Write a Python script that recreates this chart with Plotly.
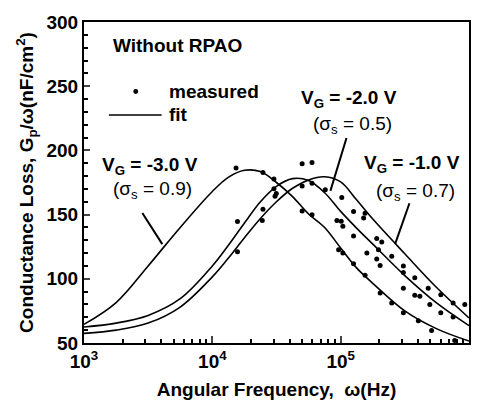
import plotly.graph_objects as go

# ---- fit curves ----
omega_fit = [1.0e3, 1.78e3, 3.16e3, 5.62e3, 1.0e4, 1.33e4, 1.78e4, 2.37e4, 3.16e4,
             4.22e4, 5.62e4, 7.5e4, 1.0e5, 1.33e5, 1.78e5, 3.16e5, 5.62e5, 1.0e6]
fit_vg3 = [64.5, 81.5, 110, 140, 168, 179, 184.5, 183.5, 175, 164, 150.5, 140, 124,
           108.5, 96.5, 75, 61, 51.5]
fit_vg2 = [62.5, 65.5, 71.5, 84.5, 110, 126, 143.5, 160, 172, 178, 176.5, 167, 152.5,
           139.5, 127, 102.5, 81, 63.5]
fit_vg1 = [57.5, 60, 65.5, 78, 101.5, 116, 132, 147, 160, 170.5, 177, 179.5, 175.5,
           161.5, 146.5, 119.5, 93, 69.5]

# ---- measured points ----
meas_w_vg3 = [1.53e4, 2.48e4, 3.02e4, 5.01e4, 5.98e4, 9.64e4, 1.04e5, 1.26e5, 1.55e5,
              2.03e5, 2.50e5, 3.08e5, 4.03e5, 5.11e5, 7.74e5]
meas_g_vg3 = [186.2, 182.8, 177.8, 152.9, 149.8, 122.6, 120.1, 111.7, 102.8,
              88.9, 81.2, 73.6, 67.3, 59.7, 52.0]
meas_w_vg2 = [1.57e4, 2.48e4, 3.02e4, 3.15e4, 5.01e4, 5.98e4, 9.35e4, 1.01e5, 1.04e5,
              1.26e5, 1.60e5, 1.97e5, 1.91e5, 2.03e5, 3.08e5, 3.08e5, 3.78e5, 4.14e5,
              4.95e5, 6.03e5, 7.52e5]
meas_g_vg2 = [144.7, 154.2, 170.2, 166.4, 172.2, 174.5, 145.5, 144.8, 140.9,
              133.3, 120.1, 122.6, 115.5, 110.4, 104.9, 92.7, 87.1, 86.4,
              80.0, 73.6, 70.3]
meas_w_vg1 = [1.57e4, 2.45e4, 3.08e4, 5.01e4, 5.98e4, 7.59e4, 1.02e5, 1.26e5, 1.55e5,
              1.51e5, 1.91e5, 2.09e5, 2.50e5, 3.08e5, 3.78e5, 4.81e5, 6.03e5, 7.52e5,
              9.27e5]
meas_g_vg1 = [121.1, 145.5, 164.3, 189.7, 190.5, 169.4, 163.3, 152.4, 151.1,
              147.3, 131.3, 128.7, 117.6, 110.0, 100.8, 92.7, 87.6, 81.2, 80.0]

x_tickvals = [1e3, 1e4, 1e5, 1e6]
x_ticktext = ["10<sup>3</sup>", "10<sup>4</sup>", "10<sup>5</sup>", "10<sup>6</sup>"]
y_tickvals = [50, 100, 150, 200, 250, 300]

FONT = "Liberation Sans, Arial, sans-serif"

fig = go.Figure()
for yv in (fit_vg3, fit_vg2, fit_vg1):
    fig.add_trace(go.Scatter(x=omega_fit, y=yv, mode="lines",
                             line=dict(color="black", width=1.6, shape="spline", smoothing=1.0),
                             showlegend=False, hoverinfo="skip"))
for xw, yg in ((meas_w_vg3, meas_g_vg3), (meas_w_vg2, meas_g_vg2), (meas_w_vg1, meas_g_vg1)):
    fig.add_trace(go.Scatter(x=xw, y=yg, mode="markers",
                             marker=dict(color="black", size=5, symbol="circle"),
                             showlegend=False))

minor_x = [m * 10 ** e for e in (3, 4, 5) for m in range(2, 10)]

fig.update_layout(
    width=483, height=409,
    margin=dict(l=84, r=12, t=18, b=63),
    paper_bgcolor="white", plot_bgcolor="white",
    font=dict(family=FONT, size=19, color="black", weight="bold"),
    showlegend=False,
    xaxis=dict(type="log", range=[3, 6], tickmode="array", tickvals=x_tickvals,
               ticktext=x_ticktext, ticks="inside", ticklen=7, tickwidth=2,
               showline=True, linewidth=2, linecolor="black", mirror=True,
               showgrid=False, zeroline=False,
               minor=dict(tickmode="array", tickvals=minor_x, ticks="inside",
                          ticklen=4, tickwidth=2, tickcolor="black"),
               title=dict(text="Angular Frequency,  ω(Hz)", standoff=12,
                          font=dict(size=19, weight="bold"))),
    yaxis=dict(range=[50, 300], tickmode="array", tickvals=y_tickvals,
               ticks="inside", ticklen=6, tickwidth=2,
               showline=True, linewidth=2, linecolor="black", mirror=True,
               showgrid=False, zeroline=False,
               minor=dict(dtick=10, ticks="inside", ticklen=3.5, tickwidth=2,
                          tickcolor="black"),
               title=dict(text="Conductance Loss, G<sub>p</sub>/ω(nF/cm<sup>2</sup>)",
                          standoff=8, font=dict(size=19, weight="bold"))),
)

bold = dict(family=FONT, size=19, color="black", weight="bold")
normal = dict(family=FONT, size=19, color="black", weight="normal")

texts = [
    ("Without RPAO", 3.729, 282, "center", bold),
    ("V<sub>G</sub> = -3.0 V", 3.512, 188, "center", bold),
    ("(σ<sub>s</sub> = 0.9)", 3.531, 168.9, "center", normal),
    ("V<sub>G</sub> = -2.0 V", 5.062, 239.8, "center", bold),
    ("(σ<sub>s</sub> = 0.5)", 5.089, 220, "center", normal),
    ("V<sub>G</sub> = -1.0 V", 5.554, 189.5, "center", bold),
    ("(σ<sub>s</sub> = 0.7)", 5.581, 167.4, "center", normal),
    ("measured", 3.643, 246, "left", bold),
    ("fit", 3.643, 227.6, "left", bold),
]
for t, x, y, xa, f in texts:
    fig.add_annotation(text=t, x=x, y=y, xref="x", yref="y", showarrow=False,
                       xanchor=xa, yanchor="middle", font=f)

arrows = [
    (3.61, 127, 3.447, 152.4),
    (4.92, 168.5, 5.049, 210.8),
    (5.424, 127, 5.54, 160),
]
for hx, hy, tx, ty in arrows:
    fig.add_annotation(text="", x=hx, y=hy, ax=tx, ay=ty, xref="x", yref="y",
                       axref="x", ayref="y", showarrow=True, arrowhead=0,
                       arrowwidth=2, arrowcolor="black", standoff=0, startstandoff=0)

# legend samples (paper coordinates)
fig.add_shape(type="circle", xref="paper", yref="paper",
              x0=0.1280, x1=0.1408, y0=0.7759, y1=0.7911,
              fillcolor="black", line=dict(color="black", width=0))
fig.add_shape(type="line", xref="paper", yref="paper",
              x0=0.0646, x1=0.2016, y0=0.7104, y1=0.7104,
              line=dict(color="black", width=1.6))

fig.write_html("out.html")
